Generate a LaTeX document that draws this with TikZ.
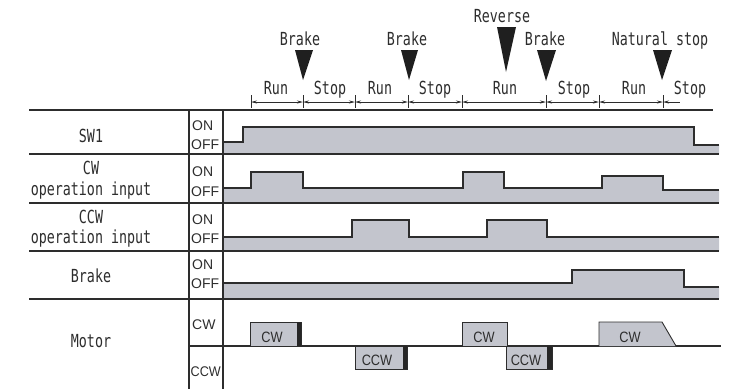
\documentclass[tikz,border=0pt]{standalone}
\usepackage{fontspec}
\setmainfont{Liberation Sans}
\newfontfamily\jm[FakeStretch=0.74]{DejaVu Sans Mono}
\newfontfamily\nsans[FakeStretch=0.85]{Liberation Sans}
\usetikzlibrary{arrows.meta}
\definecolor{sig}{RGB}{195,197,205}
\definecolor{ln}{RGB}{45,45,45}
\begin{document}
\begin{tikzpicture}[x=1pt,y=-1pt,
  mono/.style={font=\jm\fontsize{18}{18}\selectfont, inner sep=0pt, text=ln, anchor=base},
  lvl/.style={font=\fontsize{14}{14}\selectfont, inner sep=0pt, text=ln, anchor=base west},
  boxlbl/.style={font=\nsans\fontsize{15}{15}\selectfont, inner sep=0pt, text=ln, anchor=base},
  rowline/.style={draw=ln, line width=1.6pt},
  colline/.style={draw=ln, line width=1.2pt},
  sigline/.style={draw=ln, line width=1.3pt},
  sigfill/.style={fill=sig},
  mbox/.style={draw=ln, line width=0.9pt, fill=sig},
  bar/.style={fill=black!85},
  tri/.style={fill=black!88},
  tick/.style={draw=ln, line width=0.8pt},
  dim/.style={draw=ln, line width=0.8pt, {Stealth[length=6pt,width=3pt]}-{Stealth[length=6pt,width=3pt]}},
  dimL/.style={draw=ln, line width=0.8pt, {Stealth[length=6pt,width=3pt]}-}
]
\useasboundingbox (0,0) rectangle (751,389);

% ---- signal fills ----
% SW1
\path[sigfill] (223,154) -- (223,142) -- (243,142) -- (243,127) -- (694,127) -- (694,145) -- (719,145) -- (719,154) -- cycle;
\draw[sigline] (223,142) -- (243,142) -- (243,127) -- (694,127) -- (694,145) -- (719,145);
% CW input
\path[sigfill] (223,203) -- (223,188) -- (251,188) -- (251,172) -- (303,172) -- (303,188) -- (463,188) -- (463,172) -- (504,172) -- (504,188) -- (602,188) -- (602,176) -- (663,176) -- (663,190) -- (719,190) -- (719,203) -- cycle;
\draw[sigline] (223,188) -- (251,188) -- (251,172) -- (303,172) -- (303,188) -- (463,188) -- (463,172) -- (504,172) -- (504,188) -- (602,188) -- (602,176) -- (663,176) -- (663,190) -- (719,190);
% CCW input
\path[sigfill] (223,251) -- (223,237) -- (352,237) -- (352,220) -- (409,220) -- (409,237) -- (487,237) -- (487,220) -- (547,220) -- (547,237) -- (719,237) -- (719,251) -- cycle;
\draw[sigline] (223,237) -- (352,237) -- (352,220) -- (409,220) -- (409,237) -- (487,237) -- (487,220) -- (547,220) -- (547,237) -- (719,237);
% Brake
\path[sigfill] (223,299) -- (223,283) -- (572,283) -- (572,270) -- (684,270) -- (684,287) -- (719,287) -- (719,299) -- cycle;
\draw[sigline] (223,283) -- (572,283) -- (572,270) -- (684,270) -- (684,287) -- (719,287);

% ---- table lines ----
\draw[rowline] (29,110) -- (713,110);
\draw[rowline] (29,154) -- (719,154);
\draw[rowline] (29,203) -- (719,203);
\draw[rowline] (29,251) -- (719,251);
\draw[rowline] (29,299) -- (719,299);
\draw[colline] (189,110) -- (189,389);
\draw[colline] (223,110) -- (223,389);
\draw[colline] (189,346) -- (721,346);

% ---- motor boxes ----
\draw[mbox] (250,346) -- (250,322) -- (301,322) -- (301,346);
\path[bar] (297,322) rectangle (301,346);
\node[boxlbl] (mcw1) at (272,342) {CW};
\draw[mbox] (355,346) rectangle (407,369);
\path[bar] (403,346) rectangle (407,369);
\node[boxlbl] (mccw1) at (377,365) {CCW};
\draw[mbox] (462,346) -- (462,322) -- (507,322) -- (507,346);
\node[boxlbl] (mcw2) at (484,342) {CW};
\draw[mbox] (506,346) rectangle (552,369);
\path[bar] (547,346) rectangle (552,369);
\node[boxlbl] (mccw2) at (526,365) {CCW};
\draw[mbox] (599,346) -- (599,322) -- (662,322) -- (676,346);
\node[boxlbl] (mcw3) at (630,342) {CW};

% ---- left labels ----
\node[mono] (lsw1) at (91,142) {SW1};
\node[mono] (lcw) at (91,174) {CW};
\node[mono] (lcwop) at (91,195) {operation input};
\node[mono] (lccw) at (91,223) {CCW};
\node[mono] (lccwop) at (91,243) {operation input};
\node[mono] (lbrk) at (91,282) {Brake};
\node[mono] (lmot) at (91,347) {Motor};

% ---- ON/OFF labels ----
\node[lvl] (on1) at (192,130) {ON};
\node[lvl] (off1) at (191,149) {OFF};
\node[lvl] (on2) at (192,176) {ON};
\node[lvl] (off2) at (191,196) {OFF};
\node[lvl] (on3) at (192,224) {ON};
\node[lvl] (off3) at (191,243) {OFF};
\node[lvl] (on4) at (192,269) {ON};
\node[lvl] (off4) at (191,288) {OFF};
\node[lvl] (mcw) at (192,329) {CW};
\node[lvl,xscale=0.9] (mccw) at (190.5,376) {CCW};

% ---- top events ----
\node[mono] (ev1) at (300,45) {Brake};
\path[tri] (295,50) -- (313,50) -- (303,80) -- cycle;
\node[mono] (ev2) at (407,45) {Brake};
\path[tri] (401,50) -- (418,50) -- (409,80) -- cycle;
\node[mono] (ev3) at (502,22) {Reverse};
\path[tri] (497,27) -- (516,27) -- (506,72) -- cycle;
\node[mono] (ev4) at (545,45) {Brake};
\path[tri] (537,50) -- (556,50) -- (546,81) -- cycle;
\node[mono] (ev5) at (660,45) {Natural stop};
\path[tri] (653,50) -- (672,50) -- (662,80) -- cycle;

% ---- interval ticks ----
\foreach \n/\x in {0/251,1/303,2/355,3/408,4/462,5/546,6/599,7/663}{
  \coordinate (t\n) at (\x,102);
  \draw[tick] (\x,95) -- (\x,108);
}
\coordinate (tend) at (680,102);
\draw[dim] (t0) -- (t1);
\draw[dim] (t1) -- (t2);
\draw[dim] (t2) -- (t3);
\draw[dim] (t3) -- (t4);
\draw[dim] (t4) -- (t5);
\draw[dim] (t5) -- (t6);
\draw[dim] (t6) -- (t7);
\draw[dimL] (t7) -- (tend);

\node[mono] (r1) at (276,94) {Run};
\node[mono] (s1) at (330,94) {Stop};
\node[mono] (r2) at (380,94) {Run};
\node[mono] (s2) at (435,94) {Stop};
\node[mono] (r3) at (505,94) {Run};
\node[mono] (s3) at (574,94) {Stop};
\node[mono] (r4) at (634,94) {Run};
\node[mono] (s4) at (690,94) {Stop};
\end{tikzpicture}
\end{document}
